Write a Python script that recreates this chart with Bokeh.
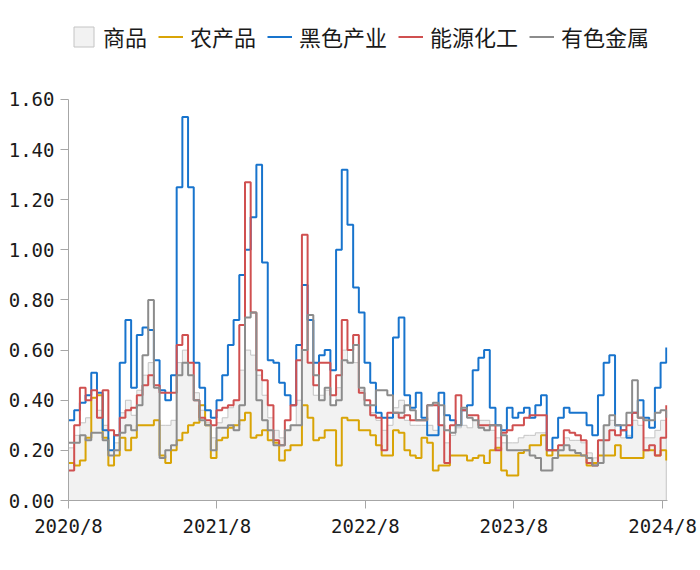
import pandas as pd
from bokeh.plotting import figure
from bokeh.models import (Range1d, FixedTicker, PrintfTickFormatter, Legend, LegendItem)
from bokeh.embed import file_html
from bokeh.resources import INLINE

# ---- data (two-week sampling) ----
dates = pd.date_range("2020-08-01", periods=106, freq="14D")

commodity = [0.21,0.26,0.31,0.33,0.41,0.36,0.30,0.20,0.23,0.35,
             0.40,0.34,0.44,0.50,0.55,0.45,0.30,0.30,0.32,0.55,
             0.60,0.55,0.43,0.36,0.31,0.25,0.31,0.33,0.37,0.40,
             0.52,0.60,0.58,0.50,0.42,0.33,0.28,0.25,0.28,0.30,
             0.40,0.60,0.55,0.42,0.42,0.44,0.38,0.45,0.60,0.55,
             0.55,0.44,0.38,0.35,0.32,0.28,0.30,0.37,0.40,0.32,
             0.30,0.30,0.30,0.30,0.28,0.30,0.23,0.26,0.29,0.30,
             0.29,0.32,0.32,0.32,0.28,0.25,0.23,0.23,0.23,0.25,
             0.26,0.26,0.27,0.27,0.18,0.20,0.22,0.25,0.24,0.24,
             0.23,0.19,0.17,0.24,0.30,0.32,0.26,0.25,0.26,0.32,
             0.30,0.25,0.25,0.28,0.32,0.30]

agri = [0.15,0.14,0.16,0.25,0.41,0.42,0.25,0.14,0.18,0.25,
        0.20,0.25,0.30,0.30,0.30,0.32,0.18,0.15,0.20,0.24,
        0.27,0.30,0.31,0.38,0.30,0.17,0.24,0.25,0.29,0.30,
        0.32,0.35,0.25,0.26,0.28,0.24,0.23,0.16,0.20,0.22,
        0.22,0.38,0.33,0.24,0.25,0.28,0.28,0.14,0.33,0.32,
        0.32,0.28,0.28,0.26,0.22,0.18,0.18,0.28,0.27,0.20,
        0.18,0.17,0.25,0.23,0.12,0.14,0.14,0.18,0.18,0.18,
        0.16,0.17,0.18,0.15,0.20,0.21,0.12,0.10,0.10,0.19,
        0.20,0.22,0.22,0.26,0.18,0.20,0.18,0.18,0.18,0.18,
        0.18,0.14,0.15,0.18,0.18,0.18,0.22,0.17,0.17,0.17,
        0.17,0.20,0.20,0.18,0.20,0.16]

ferrous = [0.32,0.36,0.39,0.42,0.51,0.43,0.28,0.20,0.26,0.55,
           0.72,0.45,0.66,0.69,0.68,0.56,0.44,0.40,0.50,1.25,
           1.53,1.25,0.55,0.45,0.36,0.33,0.40,0.50,0.62,0.72,
           0.90,1.00,1.13,1.34,0.95,0.56,0.55,0.47,0.42,0.38,
           0.62,0.86,0.72,0.55,0.58,0.60,0.52,1.00,1.32,1.10,
           0.85,0.75,0.55,0.47,0.35,0.33,0.33,0.65,0.73,0.42,
           0.37,0.43,0.33,0.26,0.26,0.43,0.34,0.32,0.30,0.36,
           0.38,0.52,0.57,0.60,0.37,0.30,0.28,0.37,0.33,0.35,
           0.37,0.33,0.38,0.42,0.20,0.25,0.33,0.37,0.35,0.35,
           0.35,0.30,0.26,0.42,0.55,0.58,0.30,0.28,0.25,0.35,
           0.40,0.33,0.29,0.45,0.55,0.61]

energy = [0.12,0.30,0.45,0.40,0.44,0.33,0.44,0.28,0.26,0.33,
          0.36,0.37,0.42,0.46,0.50,0.46,0.43,0.43,0.43,0.62,
          0.66,0.55,0.40,0.33,0.32,0.30,0.36,0.37,0.38,0.40,
          0.70,1.27,0.75,0.52,0.48,0.38,0.24,0.22,0.32,0.38,
          0.56,1.06,0.55,0.46,0.55,0.55,0.42,0.50,0.72,0.60,
          0.66,0.43,0.40,0.34,0.33,0.20,0.35,0.35,0.33,0.34,
          0.32,0.32,0.32,0.38,0.38,0.30,0.15,0.30,0.42,0.36,
          0.34,0.34,0.30,0.30,0.30,0.20,0.27,0.28,0.30,0.30,
          0.33,0.34,0.34,0.34,0.20,0.20,0.22,0.28,0.27,0.26,
          0.24,0.15,0.14,0.24,0.24,0.28,0.26,0.28,0.30,0.35,
          0.33,0.20,0.22,0.18,0.25,0.38]

nonferrous = [0.23,0.23,0.26,0.24,0.27,0.27,0.24,0.18,0.20,0.27,
              0.30,0.28,0.38,0.58,0.80,0.45,0.17,0.20,0.22,0.50,
              0.55,0.50,0.40,0.32,0.30,0.20,0.29,0.29,0.30,0.28,
              0.38,0.73,0.75,0.40,0.32,0.28,0.22,0.22,0.28,0.30,
              0.30,0.60,0.74,0.50,0.40,0.45,0.38,0.40,0.56,0.55,
              0.62,0.45,0.38,0.38,0.44,0.44,0.42,0.35,0.35,0.38,
              0.36,0.32,0.32,0.38,0.39,0.38,0.28,0.27,0.30,0.37,
              0.33,0.32,0.29,0.28,0.30,0.30,0.26,0.20,0.20,0.20,
              0.20,0.18,0.17,0.12,0.12,0.17,0.20,0.22,0.20,0.19,
              0.18,0.17,0.14,0.15,0.30,0.34,0.30,0.30,0.35,0.48,
              0.33,0.32,0.32,0.35,0.36,0.33]

series_names = ["商品", "农产品", "黑色产业", "能源化工", "有色金属"]
line_colors = ["#d9a406", "#1874cd", "#d05050", "#8c8c8c"]

x_tick_dates = ["2020-08-01", "2021-08-01", "2022-08-01", "2023-08-01", "2024-08-01"]
x_tick_labels = ["2020/8", "2021/8", "2022/8", "2023/8", "2024/8"]
y_ticks = [0.0, 0.2, 0.4, 0.6, 0.8, 1.0, 1.2, 1.4, 1.6]
y_axis_max = 1.6

# ---- figure ----
x_start = pd.Timestamp("2020-08-01")
x_end = pd.Timestamp("2024-08-13")

# the frame reaches up to the canvas top so the legend can sit inside it;
# the y axis itself is bounded to 0..1.6
p = figure(width=698, height=557, x_axis_type="datetime",
           x_range=Range1d(x_start, x_end), y_range=Range1d(0, 1.995),
           output_backend="svg", toolbar_location=None,
           min_border_left=68, min_border_right=31,
           min_border_top=0, min_border_bottom=57)
p.outline_line_color = None
p.xgrid.visible = False
p.ygrid.visible = False
p.background_fill_color = "white"

# area (step shaped polygon built from the data)
xms = [d.value / 1e6 for d in dates]
px, py = [], []
for i in range(len(xms)):
    px.append(xms[i]); py.append(commodity[i])
    if i + 1 < len(xms):
        px.append(xms[i + 1]); py.append(commodity[i])
px += [xms[-1], xms[0]]
py += [0, 0]
area = p.patch(px, py, fill_color="#f2f2f2", line_color="#c4c4c4", line_width=1)

renderers = [area]
for vals, col in zip([agri, ferrous, energy, nonferrous], line_colors):
    r = p.step(dates, vals, mode="after", line_color=col, line_width=2)
    renderers.append(r)

# axes
label_font = "DejaVu Sans Mono"
for ax in (p.xaxis[0], p.yaxis[0]):
    ax.axis_line_color = "#a6a6a6"
    ax.major_tick_line_color = "#a6a6a6"
    ax.minor_tick_line_color = None
    ax.major_tick_in = 0
    ax.major_tick_out = 8
    ax.major_label_text_font = label_font
    ax.major_label_text_font_size = "19px"
    ax.major_label_text_color = "#1a1a1a"
    ax.major_label_standoff = 6

p.yaxis[0].ticker = FixedTicker(ticks=y_ticks)
p.yaxis[0].formatter = PrintfTickFormatter(format="%.2f")
p.yaxis[0].bounds = (0, y_axis_max)

x_ticks = [pd.Timestamp(d).value / 1e6 for d in x_tick_dates]
p.xaxis[0].ticker = FixedTicker(ticks=x_ticks)
p.xaxis[0].major_label_overrides = {t: lab for t, lab in zip(x_ticks, x_tick_labels)}

# legend (inside the upper, empty part of the frame)
items = [LegendItem(label=n, renderers=[r]) for n, r in zip(series_names, renderers)]
legend = Legend(items=items, location=(3, 448), orientation="horizontal",
                glyph_width=25, glyph_height=25, label_standoff=7, spacing=11,
                padding=0, margin=0, border_line_color=None, background_fill_alpha=0,
                label_text_font="Noto Sans CJK SC", label_text_font_size="22px",
                label_text_color="#1a1a1a", label_height=22)
p.add_layout(legend, "center")

open("out.html", "w").write(file_html(p, INLINE))
